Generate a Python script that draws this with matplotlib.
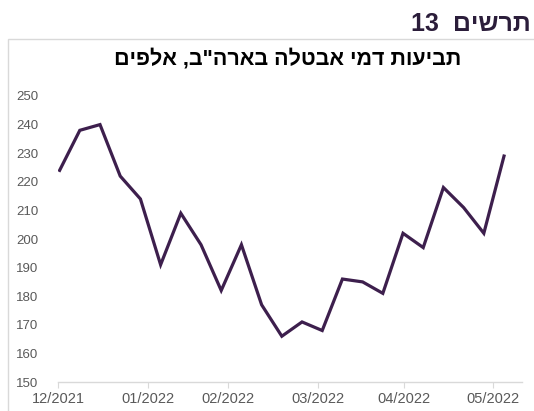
import matplotlib.pyplot as plt

# weekly initial claims, thousands
claims = [224, 238, 240, 222, 214, 191, 209, 198, 182, 198, 177, 166,
          171, 168, 186, 185, 181, 202, 197, 218, 211, 202, 229]
month_labels = ["12/2021", "01/2022", "02/2022", "03/2022", "04/2022", "05/2022"]
month_pos = [-0.08, 4.38, 8.34, 12.77, 17.06, 21.47]  # week index of month ticks
y_ticks = list(range(150, 251, 10))

fig_title = "תרשים 13"
chart_title = 'תביעות דמי אבטלה בארה"ב, אלפים'


def visual(s, sep=" "):
    # matplotlib has no bidi support, so flip the Hebrew by hand
    words = s.split(" ")
    out = []
    for w in reversed(words):
        out.append(w if w.isdigit() else w[::-1])
    return sep.join(out)


plt.rcParams['font.family'] = ['Liberation Sans', 'DejaVu Sans']

fig = plt.figure(figsize=(5.34, 4.11), dpi=100)

# frame around the chart
frame = plt.Rectangle((8 / 534, -0.1), 1.0, 1 - 39 / 411 + 0.1, transform=fig.transFigure,
                      fill=False, edgecolor="#d9d9d9", linewidth=1)
fig.patches.append(frame)

fig.text(411 / 534, 1 - 24 / 411, visual(fig_title, "  "), ha="left", va="center",
         fontsize=18, fontweight="bold", color="#2b1d3a")
fig.text(288 / 534, 1 - 59 / 411, visual(chart_title), ha="center", va="center",
         fontsize=15.5, fontweight="bold", color="black")

ax = fig.add_axes([58 / 534, 1 - 382 / 411, (522 - 58) / 534, (382 - 96) / 411])
x = list(range(len(claims)))
ax.plot(x, claims, color="#3d1f4d", linewidth=2.3, solid_joinstyle="miter")

ax.set_ylim(150, 250)
ax.set_xlim(-0.08, 22.89)
ax.set_yticks(y_ticks)
ax.set_xticks(month_pos)
ax.set_xticklabels(month_labels)

for s in ["top", "right", "left"]:
    ax.spines[s].set_visible(False)
ax.spines["bottom"].set_color("#d9d9d9")
ax.spines["bottom"].set_linewidth(1)
ax.tick_params(axis="y", length=0, pad=14, labelsize=9.5, labelcolor="#595959")
ax.tick_params(axis="x", length=4, color="#d9d9d9", pad=3, labelsize=10.5, labelcolor="#595959")

fig.savefig("out.png", dpi=100)
